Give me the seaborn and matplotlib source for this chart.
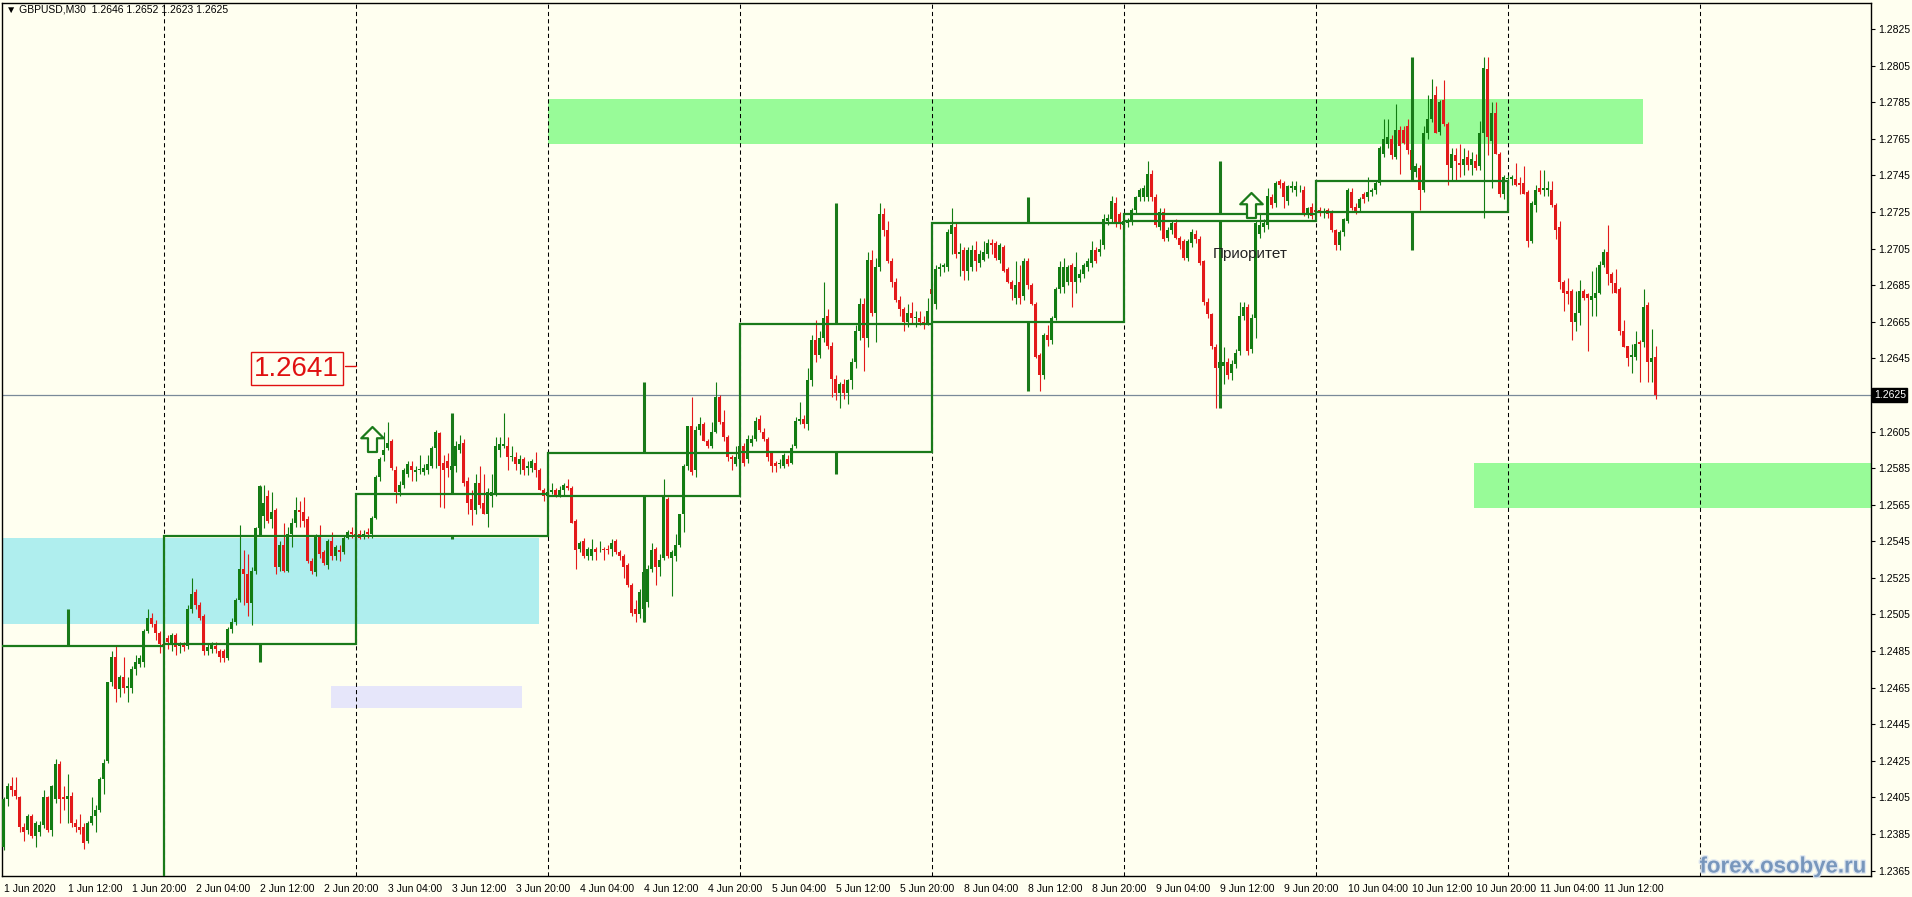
import numpy as np
import matplotlib
matplotlib.use("Agg")
import matplotlib.pyplot as plt
import matplotlib.patheffects as pe
from matplotlib.patches import Rectangle
from matplotlib.path import Path
from matplotlib.transforms import blended_transform_factory
import seaborn as sns

# GBPUSD M30 candles, bar 0 = 1 Jun 2020 04:00 (weekend skipped)
opens = [
    1.2378, 1.2404, 1.2411, 1.2409, 1.2405, 1.2389, 1.2387, 1.2395,
    1.2384, 1.2386, 1.2390, 1.2405, 1.2387, 1.2404, 1.2423, 1.2405,
    1.2404, 1.2406, 1.2391, 1.2389, 1.2389, 1.2381, 1.2391, 1.2395,
    1.2398, 1.2415, 1.2425, 1.2468, 1.2482, 1.2464, 1.2471, 1.2465,
    1.2465, 1.2475, 1.2478, 1.2479, 1.2496, 1.2503, 1.2500, 1.2495,
    1.2489, 1.2492, 1.2489, 1.2494, 1.2488, 1.2489, 1.2488, 1.2508,
    1.2517, 1.2510, 1.2504, 1.2485, 1.2486, 1.2488, 1.2485, 1.2485,
    1.2481, 1.2497, 1.2501, 1.2513, 1.2530, 1.2527, 1.2511, 1.2529,
    1.2552, 1.2559, 1.2570, 1.2557, 1.2562, 1.2531, 1.2543, 1.2529,
    1.2549, 1.2555, 1.2562, 1.2561, 1.2557, 1.2534, 1.2528, 1.2548,
    1.2539, 1.2532, 1.2545, 1.2537, 1.2540, 1.2539, 1.2547, 1.2550,
    1.2549, 1.2549, 1.2548, 1.2550, 1.2549, 1.2558, 1.2580, 1.2592,
    1.2596, 1.2600, 1.2584, 1.2572, 1.2576, 1.2582, 1.2586, 1.2583,
    1.2584, 1.2583, 1.2584, 1.2586, 1.2596, 1.2604, 1.2588, 1.2589,
    1.2584, 1.2586, 1.2595, 1.2599, 1.2578, 1.2568, 1.2562, 1.2577,
    1.2566, 1.2560, 1.2570, 1.2571, 1.2595, 1.2597, 1.2597, 1.2591,
    1.2591, 1.2587, 1.2590, 1.2585, 1.2585, 1.2588, 1.2584, 1.2573,
    1.2570, 1.2572, 1.2573, 1.2570, 1.2573, 1.2575, 1.2574, 1.2556,
    1.2541, 1.2545, 1.2537, 1.2537, 1.2541, 1.2540, 1.2541, 1.2541,
    1.2541, 1.2545, 1.2539, 1.2537, 1.2532, 1.2521, 1.2508, 1.2505,
    1.2508, 1.2512, 1.2530, 1.2541, 1.2531, 1.2536, 1.2568, 1.2536,
    1.2537, 1.2543, 1.2560, 1.2586, 1.2608, 1.2584, 1.2606, 1.2609,
    1.2600, 1.2597, 1.2605, 1.2624, 1.2610, 1.2602, 1.2591, 1.2587,
    1.2590, 1.2597, 1.2590, 1.2599, 1.2601, 1.2612, 1.2605, 1.2601,
    1.2593, 1.2588, 1.2587, 1.2586, 1.2590, 1.2588, 1.2597, 1.2611,
    1.2612, 1.2609, 1.2633, 1.2655, 1.2647, 1.2656, 1.2668, 1.2652,
    1.2634, 1.2626, 1.2631, 1.2626, 1.2633, 1.2643, 1.2660, 1.2675,
    1.2656, 1.2699, 1.2670, 1.2695, 1.2724, 1.2715, 1.2698, 1.2687,
    1.2677, 1.2672, 1.2665, 1.2670, 1.2667, 1.2667, 1.2665, 1.2664,
    1.2683, 1.2675, 1.2694, 1.2695, 1.2695, 1.2713, 1.2717, 1.2702,
    1.2704, 1.2693, 1.2695, 1.2704, 1.2697, 1.2699, 1.2702, 1.2708,
    1.2708, 1.2699, 1.2706, 1.2694, 1.2687, 1.2678, 1.2687, 1.2679,
    1.2698, 1.2685, 1.2675, 1.2647, 1.2636, 1.2658, 1.2655, 1.2667,
    1.2683, 1.2684, 1.2687, 1.2696, 1.2687, 1.2689, 1.2691, 1.2695,
    1.2697, 1.2704, 1.2703, 1.2707, 1.2720, 1.2721, 1.2730, 1.2724,
    1.2718, 1.2719, 1.2720, 1.2726, 1.2733, 1.2733, 1.2733, 1.2746,
    1.2733, 1.2717, 1.2725, 1.2711, 1.2715, 1.2719, 1.2711, 1.2709,
    1.2700, 1.2708, 1.2713, 1.2710, 1.2698, 1.2676, 1.2669, 1.2651,
    1.2640, 1.2641, 1.2643, 1.2637, 1.2642, 1.2649, 1.2668, 1.2673,
    1.2650, 1.2667, 1.2713, 1.2717, 1.2718, 1.2733, 1.2730, 1.2742,
    1.2741, 1.2731, 1.2738, 1.2737, 1.2738, 1.2737, 1.2724, 1.2728,
    1.2726, 1.2726, 1.2725, 1.2726, 1.2725, 1.2715, 1.2707, 1.2714,
    1.2720, 1.2736, 1.2728, 1.2727, 1.2735, 1.2733, 1.2736, 1.2737,
    1.2741, 1.2757, 1.2762, 1.2765, 1.2755, 1.2770, 1.2770, 1.2772,
    1.2759, 1.2747, 1.2749, 1.2737, 1.2768, 1.2776, 1.2789, 1.2769,
    1.2786, 1.2773, 1.2749, 1.2756, 1.2752, 1.2751, 1.2755, 1.2751,
    1.2753, 1.2750, 1.2768, 1.2803, 1.2764, 1.2779, 1.2757, 1.2735,
    1.2743, 1.2743, 1.2743, 1.2741, 1.2741, 1.2736, 1.2709, 1.2729,
    1.2738, 1.2737, 1.2737, 1.2737, 1.2729, 1.2717, 1.2687, 1.2682,
    1.2682, 1.2665, 1.2670, 1.2682, 1.2680, 1.2677, 1.2678, 1.2681,
    1.2696, 1.2703, 1.2691, 1.2686, 1.2683, 1.2660, 1.2652, 1.2646,
    1.2646, 1.2654, 1.2654, 1.2674, 1.2643, 1.2646,
]
highs = [
    1.2405, 1.2413, 1.2416, 1.2416, 1.2406, 1.2391, 1.2396, 1.2396,
    1.2392, 1.2392, 1.2409, 1.2406, 1.2412, 1.2426, 1.2425, 1.2411,
    1.2418, 1.2408, 1.2393, 1.2396, 1.2391, 1.2392, 1.2405, 1.2401,
    1.2416, 1.2426, 1.2468, 1.2485, 1.2488, 1.2472, 1.2482, 1.2471,
    1.2477, 1.2483, 1.2483, 1.2497, 1.2508, 1.2506, 1.2502, 1.2496,
    1.2491, 1.2494, 1.2495, 1.2495, 1.2490, 1.2490, 1.2510, 1.2525,
    1.2519, 1.2512, 1.2505, 1.2489, 1.2490, 1.2490, 1.2486, 1.2486,
    1.2498, 1.2503, 1.2514, 1.2554, 1.2540, 1.2538, 1.2531, 1.2553,
    1.2576, 1.2576, 1.2573, 1.2572, 1.2563, 1.2545, 1.2555, 1.2553,
    1.2558, 1.2569, 1.2567, 1.2569, 1.2559, 1.2536, 1.2549, 1.2554,
    1.2540, 1.2546, 1.2550, 1.2543, 1.2543, 1.2548, 1.2551, 1.2553,
    1.2551, 1.2551, 1.2551, 1.2552, 1.2559, 1.2581, 1.2591, 1.2605,
    1.2610, 1.2601, 1.2586, 1.2578, 1.2585, 1.2589, 1.2589, 1.2586,
    1.2592, 1.2587, 1.2592, 1.2597, 1.2606, 1.2605, 1.2592, 1.2593,
    1.2600, 1.2600, 1.2603, 1.2601, 1.2580, 1.2573, 1.2582, 1.2586,
    1.2582, 1.2574, 1.2582, 1.2602, 1.2602, 1.2615, 1.2602, 1.2597,
    1.2594, 1.2592, 1.2591, 1.2589, 1.2590, 1.2594, 1.2585, 1.2574,
    1.2574, 1.2577, 1.2574, 1.2575, 1.2577, 1.2579, 1.2575, 1.2557,
    1.2545, 1.2547, 1.2542, 1.2546, 1.2542, 1.2545, 1.2542, 1.2543,
    1.2546, 1.2546, 1.2540, 1.2538, 1.2533, 1.2522, 1.2513, 1.2519,
    1.2531, 1.2532, 1.2544, 1.2542, 1.2538, 1.2579, 1.2569, 1.2540,
    1.2549, 1.2560, 1.2587, 1.2608, 1.2624, 1.2608, 1.2613, 1.2610,
    1.2601, 1.2610, 1.2632, 1.2625, 1.2617, 1.2603, 1.2592, 1.2597,
    1.2599, 1.2599, 1.2603, 1.2603, 1.2613, 1.2614, 1.2607, 1.2602,
    1.2594, 1.2589, 1.2590, 1.2593, 1.2592, 1.2598, 1.2613, 1.2621,
    1.2614, 1.2640, 1.2658, 1.2666, 1.2660, 1.2687, 1.2672, 1.2654,
    1.2636, 1.2632, 1.2634, 1.2634, 1.2645, 1.2663, 1.2678, 1.2678,
    1.2703, 1.2704, 1.2700, 1.2730, 1.2727, 1.2720, 1.2700, 1.2689,
    1.2679, 1.2673, 1.2675, 1.2676, 1.2671, 1.2671, 1.2668, 1.2678,
    1.2686, 1.2696, 1.2697, 1.2697, 1.2716, 1.2727, 1.2719, 1.2708,
    1.2706, 1.2706, 1.2707, 1.2709, 1.2704, 1.2709, 1.2710, 1.2710,
    1.2709, 1.2708, 1.2707, 1.2695, 1.2688, 1.2698, 1.2696, 1.2700,
    1.2700, 1.2686, 1.2676, 1.2648, 1.2659, 1.2663, 1.2668, 1.2684,
    1.2698, 1.2700, 1.2696, 1.2697, 1.2703, 1.2694, 1.2697, 1.2700,
    1.2709, 1.2706, 1.2710, 1.2724, 1.2724, 1.2734, 1.2733, 1.2725,
    1.2721, 1.2722, 1.2727, 1.2734, 1.2738, 1.2740, 1.2753, 1.2748,
    1.2735, 1.2727, 1.2727, 1.2717, 1.2720, 1.2721, 1.2712, 1.2710,
    1.2710, 1.2716, 1.2715, 1.2712, 1.2699, 1.2678, 1.2670, 1.2653,
    1.2646, 1.2651, 1.2645, 1.2644, 1.2650, 1.2676, 1.2676, 1.2675,
    1.2669, 1.2720, 1.2724, 1.2721, 1.2738, 1.2735, 1.2742, 1.2743,
    1.2742, 1.2740, 1.2742, 1.2742, 1.2740, 1.2739, 1.2728, 1.2730,
    1.2728, 1.2728, 1.2727, 1.2727, 1.2726, 1.2716, 1.2715, 1.2722,
    1.2738, 1.2738, 1.2730, 1.2733, 1.2736, 1.2744, 1.2738, 1.2742,
    1.2761, 1.2776, 1.2776, 1.2767, 1.2784, 1.2772, 1.2772, 1.2776,
    1.2763, 1.2752, 1.2751, 1.2772, 1.2789, 1.2798, 1.2794, 1.2786,
    1.2797, 1.2774, 1.2760, 1.2760, 1.2762, 1.2760, 1.2759, 1.2758,
    1.2757, 1.2775, 1.2810, 1.2810, 1.2785, 1.2785, 1.2758, 1.2745,
    1.2745, 1.2745, 1.2752, 1.2744, 1.2750, 1.2737, 1.2731, 1.2740,
    1.2748, 1.2748, 1.2742, 1.2742, 1.2730, 1.2720, 1.2688, 1.2689,
    1.2683, 1.2682, 1.2688, 1.2683, 1.2681, 1.2693, 1.2695, 1.2698,
    1.2705, 1.2718, 1.2692, 1.2694, 1.2684, 1.2666, 1.2652, 1.2653,
    1.2660, 1.2655, 1.2683, 1.2676, 1.2661, 1.2652,
]
lows = [
    1.2376, 1.2400, 1.2406, 1.2404, 1.2386, 1.2381, 1.2385, 1.2383,
    1.2378, 1.2384, 1.2388, 1.2386, 1.2384, 1.2402, 1.2391, 1.2398,
    1.2391, 1.2389, 1.2386, 1.2385, 1.2377, 1.2380, 1.2390, 1.2386,
    1.2397, 1.2407, 1.2424, 1.2466, 1.2457, 1.2460, 1.2462, 1.2457,
    1.2462, 1.2472, 1.2476, 1.2476, 1.2495, 1.2498, 1.2491, 1.2484,
    1.2486, 1.2486, 1.2485, 1.2483, 1.2484, 1.2485, 1.2486, 1.2506,
    1.2508, 1.2502, 1.2483, 1.2483, 1.2484, 1.2484, 1.2479, 1.2479,
    1.2480, 1.2495, 1.2499, 1.2512, 1.2510, 1.2504, 1.2499, 1.2527,
    1.2550, 1.2552, 1.2555, 1.2552, 1.2527, 1.2529, 1.2528, 1.2528,
    1.2542, 1.2553, 1.2553, 1.2553, 1.2533, 1.2527, 1.2526, 1.2536,
    1.2532, 1.2530, 1.2535, 1.2535, 1.2534, 1.2538, 1.2546, 1.2547,
    1.2546, 1.2546, 1.2546, 1.2547, 1.2547, 1.2557, 1.2578, 1.2589,
    1.2595, 1.2584, 1.2566, 1.2570, 1.2574, 1.2580, 1.2578, 1.2578,
    1.2582, 1.2581, 1.2582, 1.2585, 1.2585, 1.2564, 1.2563, 1.2580,
    1.2582, 1.2583, 1.2593, 1.2575, 1.2560, 1.2554, 1.2560, 1.2563,
    1.2560, 1.2553, 1.2564, 1.2570, 1.2591, 1.2596, 1.2584, 1.2589,
    1.2584, 1.2582, 1.2581, 1.2581, 1.2583, 1.2580, 1.2573, 1.2567,
    1.2569, 1.2571, 1.2569, 1.2569, 1.2570, 1.2573, 1.2555, 1.2530,
    1.2539, 1.2536, 1.2535, 1.2535, 1.2535, 1.2539, 1.2535, 1.2538,
    1.2537, 1.2538, 1.2535, 1.2525, 1.2520, 1.2504, 1.2501, 1.2503,
    1.2501, 1.2509, 1.2528, 1.2521, 1.2526, 1.2535, 1.2536, 1.2515,
    1.2534, 1.2542, 1.2550, 1.2584, 1.2581, 1.2580, 1.2603, 1.2600,
    1.2596, 1.2596, 1.2604, 1.2609, 1.2600, 1.2589, 1.2584, 1.2586,
    1.2588, 1.2586, 1.2588, 1.2597, 1.2600, 1.2605, 1.2600, 1.2589,
    1.2583, 1.2583, 1.2585, 1.2585, 1.2586, 1.2587, 1.2596, 1.2609,
    1.2607, 1.2606, 1.2630, 1.2643, 1.2645, 1.2654, 1.2650, 1.2624,
    1.2622, 1.2618, 1.2623, 1.2620, 1.2628, 1.2640, 1.2655, 1.2638,
    1.2651, 1.2668, 1.2654, 1.2693, 1.2712, 1.2697, 1.2684, 1.2676,
    1.2668, 1.2660, 1.2662, 1.2664, 1.2662, 1.2663, 1.2661, 1.2663,
    1.2674, 1.2672, 1.2690, 1.2692, 1.2693, 1.2702, 1.2700, 1.2690,
    1.2688, 1.2688, 1.2693, 1.2693, 1.2695, 1.2698, 1.2700, 1.2702,
    1.2699, 1.2697, 1.2692, 1.2686, 1.2677, 1.2675, 1.2675, 1.2677,
    1.2683, 1.2674, 1.2645, 1.2627, 1.2634, 1.2652, 1.2653, 1.2666,
    1.2681, 1.2681, 1.2685, 1.2673, 1.2681, 1.2687, 1.2689, 1.2693,
    1.2695, 1.2697, 1.2701, 1.2705, 1.2718, 1.2719, 1.2717, 1.2716,
    1.2716, 1.2717, 1.2718, 1.2724, 1.2731, 1.2731, 1.2731, 1.2731,
    1.2717, 1.2715, 1.2709, 1.2709, 1.2713, 1.2710, 1.2705, 1.2699,
    1.2698, 1.2706, 1.2708, 1.2696, 1.2674, 1.2667, 1.2650, 1.2618,
    1.2630, 1.2631, 1.2634, 1.2633, 1.2640, 1.2647, 1.2666, 1.2647,
    1.2648, 1.2656, 1.2711, 1.2714, 1.2716, 1.2727, 1.2728, 1.2738,
    1.2727, 1.2729, 1.2736, 1.2734, 1.2736, 1.2723, 1.2722, 1.2721,
    1.2723, 1.2723, 1.2722, 1.2722, 1.2714, 1.2704, 1.2704, 1.2712,
    1.2719, 1.2726, 1.2724, 1.2725, 1.2730, 1.2731, 1.2734, 1.2735,
    1.2740, 1.2755, 1.2760, 1.2754, 1.2754, 1.2746, 1.2762, 1.2757,
    1.2745, 1.2744, 1.2726, 1.2736, 1.2765, 1.2774, 1.2768, 1.2767,
    1.2772, 1.2740, 1.2742, 1.2742, 1.2744, 1.2745, 1.2748, 1.2745,
    1.2748, 1.2748, 1.2722, 1.2756, 1.2738, 1.2757, 1.2733, 1.2732,
    1.2741, 1.2740, 1.2739, 1.2735, 1.2735, 1.2706, 1.2708, 1.2725,
    1.2735, 1.2734, 1.2734, 1.2728, 1.2710, 1.2683, 1.2671, 1.2675,
    1.2655, 1.2660, 1.2663, 1.2677, 1.2649, 1.2668, 1.2668, 1.2680,
    1.2695, 1.2685, 1.2681, 1.2681, 1.2658, 1.2651, 1.2641, 1.2637,
    1.2644, 1.2632, 1.2651, 1.2632, 1.2632, 1.2623,
]
closes = [
    1.2404, 1.2411, 1.2409, 1.2406, 1.2389, 1.2386, 1.2395, 1.2384,
    1.2391, 1.2390, 1.2405, 1.2387, 1.2411, 1.2423, 1.2404, 1.2404,
    1.2406, 1.2391, 1.2389, 1.2387, 1.2380, 1.2391, 1.2395, 1.2398,
    1.2415, 1.2424, 1.2468, 1.2482, 1.2464, 1.2471, 1.2465, 1.2466,
    1.2475, 1.2479, 1.2481, 1.2496, 1.2503, 1.2500, 1.2495, 1.2489,
    1.2488, 1.2490, 1.2494, 1.2487, 1.2488, 1.2487, 1.2508, 1.2516,
    1.2510, 1.2503, 1.2485, 1.2487, 1.2489, 1.2486, 1.2482, 1.2481,
    1.2497, 1.2501, 1.2513, 1.2530, 1.2527, 1.2511, 1.2529, 1.2552,
    1.2575, 1.2566, 1.2556, 1.2561, 1.2531, 1.2543, 1.2529, 1.2549,
    1.2555, 1.2562, 1.2561, 1.2556, 1.2534, 1.2529, 1.2548, 1.2538,
    1.2533, 1.2545, 1.2537, 1.2542, 1.2539, 1.2547, 1.2550, 1.2549,
    1.2548, 1.2547, 1.2549, 1.2549, 1.2558, 1.2580, 1.2590, 1.2595,
    1.2599, 1.2585, 1.2572, 1.2576, 1.2584, 1.2587, 1.2584, 1.2584,
    1.2584, 1.2585, 1.2587, 1.2596, 1.2605, 1.2586, 1.2584, 1.2585,
    1.2586, 1.2597, 1.2598, 1.2577, 1.2566, 1.2562, 1.2577, 1.2565,
    1.2560, 1.2572, 1.2572, 1.2597, 1.2598, 1.2598, 1.2591, 1.2591,
    1.2587, 1.2590, 1.2584, 1.2586, 1.2589, 1.2584, 1.2573, 1.2570,
    1.2572, 1.2573, 1.2570, 1.2573, 1.2576, 1.2574, 1.2555, 1.2540,
    1.2544, 1.2537, 1.2541, 1.2541, 1.2539, 1.2540, 1.2540, 1.2540,
    1.2544, 1.2539, 1.2537, 1.2531, 1.2521, 1.2506, 1.2505, 1.2517,
    1.2528, 1.2530, 1.2540, 1.2531, 1.2535, 1.2570, 1.2537, 1.2539,
    1.2543, 1.2560, 1.2586, 1.2608, 1.2583, 1.2606, 1.2609, 1.2600,
    1.2597, 1.2605, 1.2624, 1.2610, 1.2602, 1.2591, 1.2590, 1.2591,
    1.2597, 1.2588, 1.2601, 1.2601, 1.2611, 1.2606, 1.2601, 1.2591,
    1.2586, 1.2586, 1.2588, 1.2592, 1.2587, 1.2596, 1.2611, 1.2612,
    1.2609, 1.2633, 1.2655, 1.2647, 1.2656, 1.2667, 1.2652, 1.2634,
    1.2626, 1.2631, 1.2626, 1.2633, 1.2643, 1.2660, 1.2675, 1.2656,
    1.2699, 1.2670, 1.2695, 1.2724, 1.2715, 1.2698, 1.2687, 1.2677,
    1.2672, 1.2665, 1.2670, 1.2667, 1.2667, 1.2665, 1.2664, 1.2671,
    1.2680, 1.2694, 1.2695, 1.2696, 1.2714, 1.2718, 1.2702, 1.2703,
    1.2693, 1.2704, 1.2704, 1.2698, 1.2702, 1.2703, 1.2708, 1.2707,
    1.2700, 1.2707, 1.2693, 1.2687, 1.2683, 1.2685, 1.2678, 1.2698,
    1.2685, 1.2675, 1.2646, 1.2636, 1.2658, 1.2655, 1.2667, 1.2683,
    1.2695, 1.2695, 1.2695, 1.2687, 1.2695, 1.2691, 1.2696, 1.2698,
    1.2704, 1.2698, 1.2705, 1.2721, 1.2722, 1.2731, 1.2719, 1.2719,
    1.2720, 1.2720, 1.2726, 1.2733, 1.2737, 1.2738, 1.2746, 1.2733,
    1.2718, 1.2725, 1.2710, 1.2715, 1.2719, 1.2711, 1.2707, 1.2700,
    1.2709, 1.2714, 1.2710, 1.2697, 1.2676, 1.2669, 1.2652, 1.2640,
    1.2643, 1.2643, 1.2636, 1.2642, 1.2648, 1.2668, 1.2673, 1.2649,
    1.2667, 1.2719, 1.2718, 1.2719, 1.2734, 1.2729, 1.2741, 1.2740,
    1.2733, 1.2739, 1.2739, 1.2739, 1.2738, 1.2724, 1.2727, 1.2723,
    1.2725, 1.2725, 1.2725, 1.2724, 1.2715, 1.2707, 1.2714, 1.2721,
    1.2737, 1.2727, 1.2725, 1.2732, 1.2732, 1.2736, 1.2737, 1.2741,
    1.2760, 1.2765, 1.2766, 1.2756, 1.2770, 1.2761, 1.2763, 1.2759,
    1.2748, 1.2750, 1.2737, 1.2768, 1.2776, 1.2787, 1.2768, 1.2785,
    1.2773, 1.2751, 1.2757, 1.2753, 1.2751, 1.2754, 1.2751, 1.2754,
    1.2749, 1.2768, 1.2804, 1.2766, 1.2779, 1.2757, 1.2735, 1.2744,
    1.2743, 1.2744, 1.2740, 1.2740, 1.2735, 1.2709, 1.2730, 1.2737,
    1.2736, 1.2738, 1.2738, 1.2729, 1.2715, 1.2687, 1.2681, 1.2680,
    1.2665, 1.2670, 1.2682, 1.2678, 1.2678, 1.2679, 1.2681, 1.2696,
    1.2703, 1.2691, 1.2686, 1.2681, 1.2660, 1.2651, 1.2645, 1.2647,
    1.2653, 1.2653, 1.2673, 1.2643, 1.2645, 1.2625,
]

# daily candles overlay (box = open/close, thick ticks at 12:00 = high/low)
day_start_bar = [-8, 40, 88, 136, 184, 232, 280, 328]
day_open = [1.2340, 1.2489, 1.2548, 1.2570, 1.2594, 1.2665, 1.2720, 1.2725]
day_close = [1.2488, 1.2548, 1.2571, 1.2593, 1.2664, 1.2719, 1.2724, 1.2742]
day_high = [1.2508, 1.2575, 1.2615, 1.2632, 1.2730, 1.2733, 1.2753, 1.2810]
day_low = [1.2330, 1.2479, 1.2546, 1.2501, 1.2582, 1.2627, 1.2618, 1.2704]
separator_bars = [40, 88, 136, 184, 232, 280, 328, 376, 424]

# shaded zones: (first bar, last bar, low price, high price)
green_zones = [(136.0, 409.8, 1.2762, 1.2787), (367.6, 480.0, 1.2563, 1.2588)]
cyan_zone = (-2.0, 133.9, 1.2500, 1.2547)
lavender_zone = (81.9, 129.6, 1.2454, 1.2466)

arrow_bars = [92.1, 311.9]
arrow_prices = [1.2601, 1.2729]
level_label = "1.2641"
level_price = 1.2641
level_bar = 73.3
level_anchor_bar = 88
note_text = "Приоритет"
note_bar = 302.4
note_price = 1.2702
bid_price = 1.2625
header = "▼ GBPUSD,M30  1.2646 1.2652 1.2623 1.2625"

x_tick_bars = list(range(0, 401, 16))
x_tick_labels = [
    "1 Jun 2020", "1 Jun 12:00", "1 Jun 20:00", "2 Jun 04:00", "2 Jun 12:00",
    "2 Jun 20:00", "3 Jun 04:00", "3 Jun 12:00", "3 Jun 20:00", "4 Jun 04:00",
    "4 Jun 12:00", "4 Jun 20:00", "5 Jun 04:00", "5 Jun 12:00", "5 Jun 20:00",
    "8 Jun 04:00", "8 Jun 12:00", "8 Jun 20:00", "9 Jun 04:00", "9 Jun 12:00",
    "9 Jun 20:00", "10 Jun 04:00", "10 Jun 12:00", "10 Jun 20:00",
    "11 Jun 04:00", "11 Jun 12:00",
]
y_ticks = np.round(np.arange(1.2365, 1.2826, 0.002), 4)

BG = "#FFFFF0"
BULL = "#127C12"
BEAR = "#E31A1A"
BOX = "#1A7A1A"

sns.set_theme(style="white", rc={"axes.facecolor": BG, "figure.facecolor": BG})
plt.rcParams["font.family"] = ["Liberation Sans", "DejaVu Sans"]

W, H = 1912, 897
fig = plt.figure(figsize=(W / 100, H / 100), dpi=100)
ax = fig.add_axes([2 / W, 21 / H, 1869 / W, 873 / H])
ax.set_facecolor(BG)

o = np.array(opens)
h = np.array(highs)
l = np.array(lows)
c = np.array(closes)
bars = np.arange(len(c))
colors = np.where(c >= o, BULL, BEAR)

# zones
for x0, x1, lo, hi in green_zones:
    ax.add_patch(Rectangle((x0, lo), x1 - x0, hi - lo, color="#98FB98", lw=0, zorder=0.5))
x0, x1, lo, hi = cyan_zone
ax.add_patch(Rectangle((x0, lo), x1 - x0, hi - lo, color="#AFEEEE", lw=0, zorder=0.5))
x0, x1, lo, hi = lavender_zone
ax.add_patch(Rectangle((x0, lo), x1 - x0, hi - lo, color="#E6E6FA", lw=0, zorder=0.5))

for sb in separator_bars:
    ax.axvline(sb, color="black", lw=0.75, ls=(0, (4, 3)), zorder=1)

ax.axhline(bid_price, color="#7A8A99", lw=0.9, zorder=1.5)

# candles
ax.vlines(bars, l, h, colors=colors, lw=0.8, zorder=3)
ax.bar(bars, np.maximum(np.abs(c - o), 0.00004), bottom=np.minimum(o, c),
       width=0.75, color=colors, lw=0, zorder=3)

# daily boxes and high/low ticks
for sb, do, dc, dh, dl in zip(day_start_bar, day_open, day_close, day_high, day_low):
    top, bot = max(do, dc), min(do, dc)
    ax.add_patch(Rectangle((sb, bot), 48, top - bot, fill=False, ec=BOX, lw=1.6, zorder=4))
    mid = sb + 24
    if dh > top:
        ax.plot([mid, mid], [top, dh], color=BOX, lw=2.2, solid_capstyle="butt", zorder=4)
    if dl < bot:
        ax.plot([mid, mid], [bot, dl], color=BOX, lw=2.2, solid_capstyle="butt", zorder=4)

# hollow up arrows
arrow_path = Path([(0, 0.5), (0.45, 0.05), (0.18, 0.05), (0.18, -0.5), (-0.18, -0.5),
                   (-0.18, 0.05), (-0.45, 0.05), (0, 0.5)],
                  [Path.MOVETO] + [Path.LINETO] * 6 + [Path.CLOSEPOLY])
ax.plot(arrow_bars, arrow_prices, ls="none", marker=arrow_path, markersize=18,
        markerfacecolor=BG, markeredgecolor=BOX, mew=1.6, zorder=5)

# price label
ax.plot([level_bar + 12, level_anchor_bar], [level_price, level_price], color="#E01010", lw=1, zorder=5)
ax.text(level_bar, level_price, level_label, fontsize=20, color="#E01010", ha="center",
        va="center_baseline", zorder=6,
        bbox=dict(boxstyle="square,pad=0.12", fc=BG, ec="#E01010", lw=1))

ax.text(note_bar, note_price, note_text, fontsize=11, color="#222222", ha="left", va="center", zorder=6)

ax.set_xlim(-0.4, 466.85)
ax.set_ylim(1.23620, 1.28393)

# the bid tag replaces the regular 1.2625 label
ax.yaxis.tick_right()
ax.set_yticks(y_ticks)
ax.set_yticklabels(["" if abs(v - bid_price) < 1e-6 else f"{v:.4f}" for v in y_ticks])
ax.set_xticks(x_tick_bars)
ax.set_xticklabels(x_tick_labels, ha="left")
ax.tick_params(axis="y", direction="out", length=3, width=0.8, pad=2, labelsize=7.5, colors="black")
ax.tick_params(axis="x", direction="out", length=4, width=0.8, pad=2, labelsize=7.5, colors="black")
for s in ax.spines.values():
    s.set_visible(True)
    s.set_color("black")
    s.set_linewidth(1)

tr = blended_transform_factory(ax.transAxes, ax.transData)
ax.text(1.0015, bid_price, f"{bid_price:.4f}", transform=tr, fontsize=7.5, color="white",
        ha="left", va="center", zorder=7, clip_on=False,
        bbox=dict(boxstyle="square,pad=0.15", fc="black", ec="black"))

fig.text(6 / W, 1 - 10 / H, header, fontsize=7.5, color="black", ha="left", va="center")
fig.text(1783 / W, 1 - 867 / H, "forex.osobye.ru", fontsize=16, fontweight="bold",
         color="#6F90B8", alpha=0.9, ha="center", va="center",
         path_effects=[pe.withStroke(linewidth=2, foreground="#DDE6F0")])

fig.savefig("out.png", dpi=100, facecolor=BG)
